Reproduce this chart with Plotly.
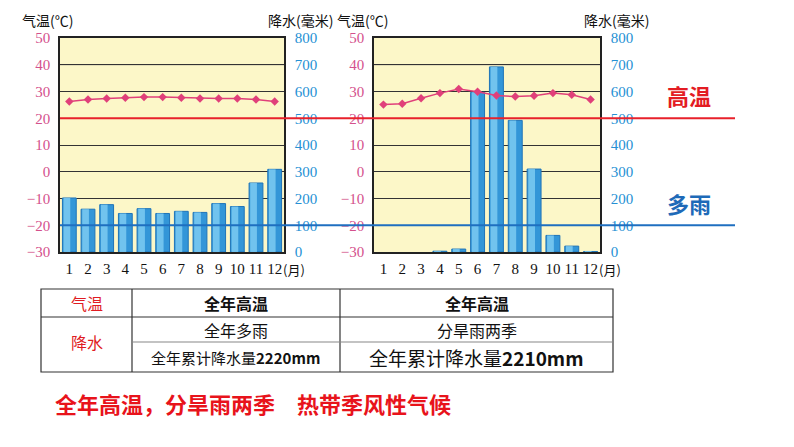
import plotly.graph_objects as go

W, H = 794, 447

months = list(range(1, 13))
month_labels = [str(m) for m in months]
temp_a = [26.3, 27.0, 27.4, 27.7, 27.9, 27.9, 27.7, 27.4, 27.4, 27.4, 27.0, 26.3]
rain_a = [202, 160, 177, 144, 162, 144, 152, 148, 181, 170, 258, 309]
temp_b = [25.1, 25.4, 27.5, 29.4, 30.9, 29.9, 28.5, 28.1, 28.4, 29.4, 28.8, 27.0]
rain_b = [0, 0, 0, 3, 11, 597, 692, 492, 310, 62, 22, 2]

temp_ticks = [50, 40, 30, 20, 10, 0, -10, -20, -30]
rain_ticks = [800, 700, 600, 500, 400, 300, 200, 100, 0]
HIGH_TEMP = 20
RAIN_LINE = 100

table_rows = [
    ["气温", "全年高温", "全年高温"],
    ["降水", "全年多雨", "分旱雨两季"],
    ["", "全年累计降水量<b>2220mm</b>", "全年累计降水量<b>2210mm</b>"],
]
summary = "全年高温，分旱雨两季　热带季风性气候"


def px(x):
    return x / W


def py(y):
    return 1 - y / H


CJK = "Noto Sans CJK SC"
SERIF = "Liberation Serif"
PINK = "#d4508c"
BLUE_T = "#2590d4"
BAR = "#3396d8"
BAR_HI = "#7ccbf2"
BAR_EDGE = "#1f74b8"
LINE_PINK = "#e0407a"
BG = "#fcf7c8"
GRID = "#333333"

fig = go.Figure()

charts = [
    dict(x="x", yr="y", yt="y2", temp=temp_a, rain=rain_a),
    dict(x="x2", yr="y3", yt="y4", temp=temp_b, rain=rain_b),
]
for c in charts:
    edge_w = [1 if v > 0 else 0 for v in c["rain"]]
    fig.add_trace(go.Bar(x=months, y=c["rain"], xaxis=c["x"], yaxis=c["yr"],
                         width=0.74, marker=dict(color=BAR, line=dict(color=BAR_EDGE, width=edge_w)),
                         showlegend=False, hoverinfo="skip"))
    fig.add_trace(go.Bar(x=months, y=c["rain"], xaxis=c["x"], yaxis=c["yr"],
                         width=0.36, offset=-0.31,
                         marker=dict(color=BAR_HI, line=dict(width=0)), opacity=0.85,
                         showlegend=False, hoverinfo="skip"))
    fig.add_trace(go.Scatter(x=months, y=c["temp"], xaxis=c["x"], yaxis=c["yt"],
                             mode="lines+markers",
                             line=dict(color=LINE_PINK, width=1.5),
                             marker=dict(symbol="diamond", size=6.5, color=LINE_PINK),
                             showlegend=False, hoverinfo="skip"))

ydom = [py(252), py(38)]
xdoms = [[px(60), px(284)], [px(374), px(600)]]

xcommon = dict(range=[0.5, 12.5], tickmode="array", tickvals=months, ticktext=month_labels,
               showgrid=False, showline=True, mirror=True, linecolor="#222", linewidth=1.5,
               ticks="outside", ticklen=2, tickcolor="rgba(0,0,0,0)", automargin=False,
               tickfont=dict(family=SERIF, size=15, color="#111"), zeroline=False, fixedrange=True)
raincommon = dict(range=[0, 800], tickvals=rain_ticks, side="right", domain=ydom,
                  showgrid=True, gridcolor=GRID, gridwidth=1, automargin=False,
                  showline=True, linecolor="#222", linewidth=1.5,
                  ticks="outside", ticklen=6, tickcolor="rgba(0,0,0,0)",
                  tickfont=dict(family=SERIF, size=15, color=BLUE_T), zeroline=False)
tempcommon = dict(range=[-30, 50], tickvals=temp_ticks, side="left", automargin=False,
                  showgrid=False, showline=True, linecolor="#222", linewidth=1.5,
                  ticks="outside", ticklen=5, tickcolor="rgba(0,0,0,0)",
                  tickfont=dict(family=SERIF, size=15, color=PINK), zeroline=False)

fig.update_layout(
    width=W, height=H, margin=dict(l=0, r=0, t=0, b=0, pad=0, autoexpand=False),
    paper_bgcolor="white", plot_bgcolor=BG, barmode="overlay", showlegend=False,
    xaxis=dict(domain=xdoms[0], anchor="y", **xcommon),
    xaxis2=dict(domain=xdoms[1], anchor="y3", **xcommon),
    yaxis=dict(anchor="x", **raincommon),
    yaxis2=dict(anchor="x", overlaying="y", **tempcommon),
    yaxis3=dict(anchor="x2", **raincommon),
    yaxis4=dict(anchor="x2", overlaying="y3", **tempcommon),
)

shapes = []
# faint 40 line
for xr, yt in (("x", "y2"), ("x2", "y4")):
    shapes.append(dict(type="line", xref=xr, yref=yt, x0=0.5, x1=12.5, y0=40, y1=40,
                       line=dict(color="#c8c4a8", width=1.3), layer="below"))
# threshold lines
shapes.append(dict(type="line", xref="paper", yref="y2", x0=px(60), x1=px(735),
                   y0=HIGH_TEMP, y1=HIGH_TEMP, line=dict(color="#e8212b", width=2)))
shapes.append(dict(type="line", xref="paper", yref="y", x0=px(60), x1=px(735),
                   y0=RAIN_LINE, y1=RAIN_LINE, line=dict(color="#1f6fc0", width=2)))

# table
TL, TR, TT, TB = 41, 613, 289, 372
C1, C2 = 132, 340
R1, R2 = 317, 342
tline = dict(color="#333", width=1.2)
shapes.append(dict(type="rect", xref="paper", yref="paper", x0=px(TL), x1=px(TR),
                   y0=py(TB), y1=py(TT), line=tline))
for cx in (C1, C2):
    shapes.append(dict(type="line", xref="paper", yref="paper", x0=px(cx), x1=px(cx),
                       y0=py(TB), y1=py(TT), line=tline))
shapes.append(dict(type="line", xref="paper", yref="paper", x0=px(TL), x1=px(TR),
                   y0=py(R1), y1=py(R1), line=tline))
shapes.append(dict(type="line", xref="paper", yref="paper", x0=px(C1), x1=px(TR),
                   y0=py(R2), y1=py(R2), line=dict(color="#888", width=1.2)))
fig.update_layout(shapes=shapes)

ann = []


def text(x, y, t, size, color="#111", bold=False, family=CJK, xanchor="center"):
    if bold:
        t = "<b>" + t + "</b>"
    ann.append(dict(x=px(x), y=py(y), xref="paper", yref="paper", text=t, showarrow=False,
                    xanchor=xanchor, yanchor="middle",
                    font=dict(family=family, size=size, color=color)))


# axis titles
text(47, 20, "气温(℃)", 14)
text(300, 20, "降水(毫米)", 14)
text(362, 20, "气温(℃)", 14)
text(616, 20, "降水(毫米)", 14)

# (月)
for xr in ("x domain", "x2 domain"):
    ann.append(dict(x=1, y=py(269), xref=xr, yref="paper", text="(月)", showarrow=False,
                    xanchor="left", yanchor="middle", xshift=-3,
                    font=dict(family=CJK, size=13, color="#111")))

text(689, 95, "高温", 22, color="#e31c23", bold=True)
text(689, 203, "多雨", 22, color="#1e6ab8", bold=True)

# table text
col_c = [(TL + C1) / 2, (C1 + C2) / 2, (C2 + TR) / 2]
text(col_c[0], (TT + R1) / 2, table_rows[0][0], 16, color="#e01b22")
text(col_c[1], (TT + R1) / 2, table_rows[0][1], 16, bold=True)
text(col_c[2], (TT + R1) / 2, table_rows[0][2], 16, bold=True)
text(col_c[0], (R1 + TB) / 2 - 3, table_rows[1][0], 16, color="#e01b22")
text(col_c[1], (R1 + R2) / 2, table_rows[1][1], 16)
text(col_c[2], (R1 + R2) / 2, table_rows[1][2], 16)
text(col_c[1], (R2 + TB) / 2, table_rows[2][1], 15)
text(col_c[2], (R2 + TB) / 2, table_rows[2][2], 19)

text(253, 403, summary, 22, color="#e8131b", bold=True)

fig.update_layout(annotations=ann)
fig.write_html("out.html")
